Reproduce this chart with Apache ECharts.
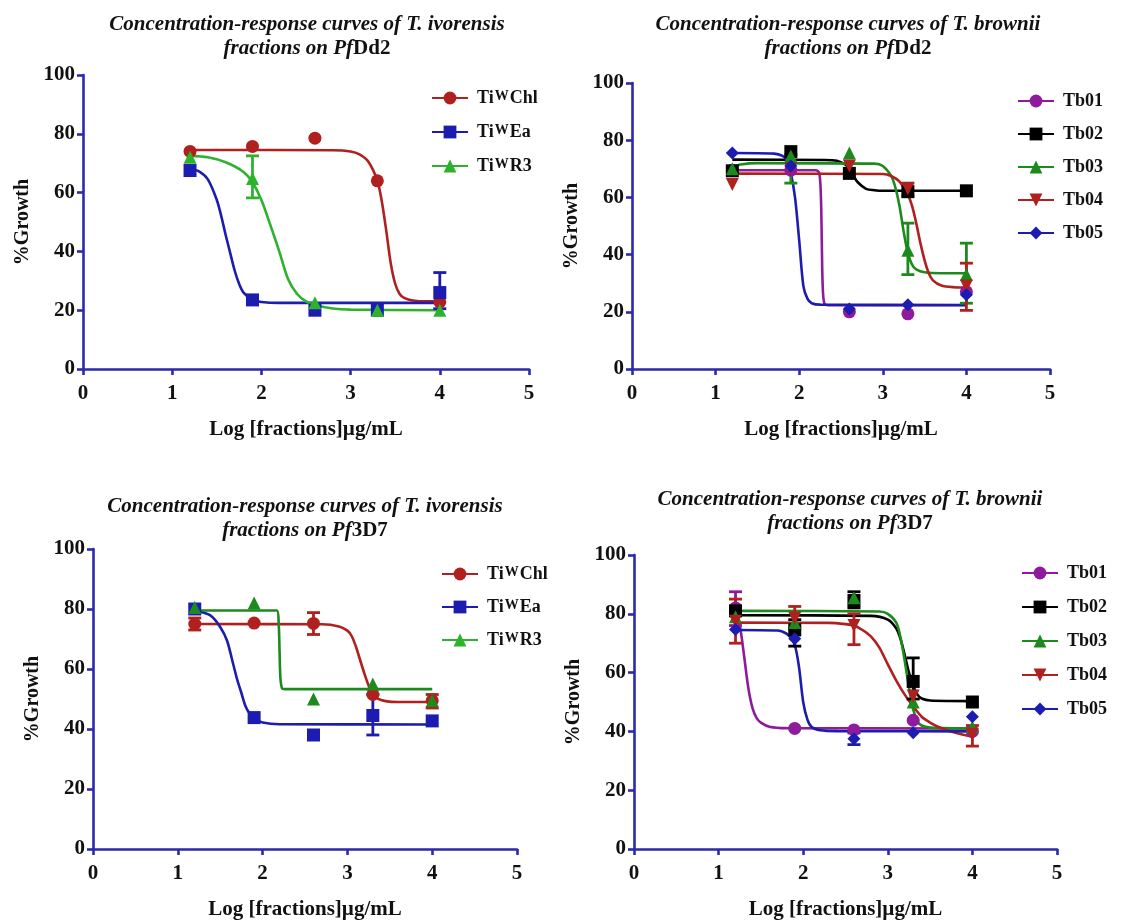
<!DOCTYPE html>
<html>
<head>
<meta charset="utf-8">
<script src="https://cdn.jsdelivr.net/npm/echarts@6/dist/echarts.min.js"></script>
<style>html,body{margin:0;padding:0;background:#fff}#c{width:1121px;height:921px}</style>
</head>
<body>
<div id="c"></div>
<script>
// ---------- DATA ----------
const xDoses = [1.2, 1.9, 2.6, 3.3, 4.0];
const xTicks = [0, 1, 2, 3, 4, 5];
const yTicks = [0, 20, 40, 60, 80, 100];

// Panel A: T. ivorensis on PfDd2
const ivoNames = ['TiWChl', 'TiWEa', 'TiWR3'];
const dd2IvoChl = [74, 75.7, 78.5, 64, 22.8];
const dd2IvoEa = [67.5, 23.5, 20, 20, 26];
const dd2IvoR3 = [72, 64.8, 22.5, 20, 20];
const dd2IvoChlErr = [];
const dd2IvoEaErr = [[4.0, 20.5, 32.8]];
const dd2IvoR3Err = [[1.9, 58.2, 72.5]];
const dd2IvoChlFit = [[1.2,74.5],[2.8,74.4],[3.0,74.0],[3.1,73.0],[3.2,70.5],[3.3,64],[3.35,57],[3.4,47],[3.45,36],[3.5,29],[3.55,25.5],[3.6,24.2],[3.7,23.3],[3.85,23],[4.0,23]];
const dd2IvoEaFit = [[1.2,68],[1.3,67.2],[1.4,64.5],[1.5,57.5],[1.55,52],[1.6,45.5],[1.65,39.5],[1.7,33.5],[1.75,29],[1.8,26],[1.9,23.5],[2.0,22.8],[2.2,22.5],[4.0,22.5]];
const dd2IvoR3Fit = [[1.2,72.5],[1.4,72],[1.6,70.3],[1.8,67],[1.9,63.5],[2.0,57.5],[2.1,49],[2.2,40],[2.3,30.5],[2.4,25.5],[2.5,23],[2.6,21.8],[2.8,20.6],[3.0,20.2],[4.0,20]];

// Panel B: T. brownii on PfDd2
const broNames = ['Tb01', 'Tb02', 'Tb03', 'Tb04', 'Tb05'];
const dd2BroTb01 = [69.5, 69.5, 20, 19.3, 27];
const dd2BroTb02 = [69.3, 76, 68.4, 62, 62.3];
const dd2BroTb03 = [70, 74.5, 75.5, 41.5, 33];
const dd2BroTb04 = [64.5, 70, 71, 63, 29];
const dd2BroTb05 = [75.5, 71, 21, 22.5, 26];
const dd2BroTb01Err = [];
const dd2BroTb02Err = [];
const dd2BroTb03Err = [[1.9, 65, 75], [3.3, 33, 51], [4.0, 23, 44]];
const dd2BroTb04Err = [[3.3, 60.5, 65], [4.0, 20.5, 37]];
const dd2BroTb05Err = [];
const dd2BroTb01Fit = [[1.2,69.5],[2.2,69.5],[2.24,68.5],[2.26,60],[2.27,45],[2.28,30],[2.3,23],[2.35,22.3],[4.0,22.3]];
const dd2BroTb02Fit = [[1.2,73.2],[2.3,73.1],[2.45,72.8],[2.55,71.5],[2.6,70],[2.65,67.5],[2.7,65.3],[2.8,63],[2.9,62.5],[3.0,62.3],[4.0,62.3]];
const dd2BroTb03Fit = [[1.2,70.5],[1.3,71.5],[1.5,72],[2.9,71.8],[3.0,71],[3.1,67.5],[3.15,63.5],[3.2,57],[3.25,48],[3.3,40.5],[3.35,36.5],[3.4,34.8],[3.5,33.8],[3.7,33.5],[4.0,33.5]];
const dd2BroTb04Fit = [[1.2,68.3],[3.0,68.2],[3.1,67.5],[3.2,65.5],[3.3,61],[3.35,57],[3.4,51],[3.45,44],[3.5,38],[3.55,33.5],[3.6,31],[3.7,29.2],[3.85,28.6],[4.0,28.5]];
const dd2BroTb05Fit = [[1.2,75.5],[1.7,75.3],[1.8,74.5],[1.85,73],[1.9,68.5],[1.95,60],[2.0,45],[2.05,29],[2.1,24.5],[2.15,23],[2.25,22.5],[4.0,22.4]];

// Panel C: T. ivorensis on Pf3D7
const d7IvoChl = [75, 75.3, 75.2, 51.5, 49.5];
const d7IvoEa = [80, 43.8, 38, 44.5, 42.7];
const d7IvoR3 = [80.5, 82, 50, 55, 49.5];
const d7IvoChlErr = [[1.2, 73, 77], [2.6, 71.5, 78.8], [4.0, 47, 51.5]];
const d7IvoEaErr = [[3.3, 38, 51.5]];
const d7IvoR3Err = [];
const d7IvoChlFit = [[1.2,75],[2.7,74.9],[2.9,74.2],[3.0,72.8],[3.05,71],[3.1,67.5],[3.15,63],[3.2,58.5],[3.25,54.5],[3.3,51.5],[3.35,50.2],[3.45,49.3],[3.6,49],[4.0,49]];
const d7IvoEaFit = [[1.2,79.3],[1.3,78.8],[1.4,77.5],[1.5,74],[1.58,69.5],[1.65,62],[1.7,56.5],[1.75,52],[1.8,47.5],[1.85,45],[1.9,43.5],[2.0,42.2],[2.2,41.6],[4.0,41.5]];
const d7IvoR3Fit = [[1.2,79.5],[2.17,79.5],[2.19,75],[2.2,66],[2.21,57],[2.23,53.5],[2.26,53.3],[4.0,53.3]];

// Panel D: T. brownii on Pf3D7
const d7BroTb01 = [82, 41, 40.5, 43.8, 40];
const d7BroTb02 = [81, 74.5, 84.5, 57, 50];
const d7BroTb03 = [79, 77, 85.5, 50, 41.5];
const d7BroTb04 = [77.5, 78.5, 76, 52, 39];
const d7BroTb05 = [74.7, 71.5, 37.5, 39.5, 45];
const d7BroTb01Err = [[1.2, 76, 87.5]];
const d7BroTb02Err = [[1.9, 69, 78], [2.6, 82, 87.5], [3.3, 51, 65]];
const d7BroTb03Err = [];
const d7BroTb04Err = [[1.2, 70, 85], [1.9, 75, 82.5], [2.6, 69.5, 80], [4.0, 35, 42]];
const d7BroTb05Err = [[2.6, 35.5, 39.5]];
const d7BroTb01Fit = [[1.2,80],[1.25,76],[1.3,66],[1.35,55],[1.4,48],[1.45,44.5],[1.5,43],[1.6,41.6],[1.8,41.1],[4.0,41]];
const d7BroTb02Fit = [[1.2,79.5],[2.8,79.3],[3.0,78],[3.1,75],[3.15,71.5],[3.2,66],[3.25,60],[3.3,55.5],[3.35,52.5],[3.4,51.2],[3.5,50.5],[4.0,50.3]];
const d7BroTb03Fit = [[1.2,81],[2.9,80.8],[3.0,80],[3.1,77],[3.15,72],[3.2,64],[3.25,55],[3.3,47.5],[3.35,43.5],[3.4,42],[3.5,41.3],[4.0,41]];
const d7BroTb04Fit = [[1.2,77],[2.3,76.9],[2.5,76.5],[2.6,76],[2.7,74.5],[2.8,72.3],[2.9,68.5],[3.0,62.8],[3.1,57.3],[3.2,52.5],[3.3,48.5],[3.4,45],[3.5,43],[3.6,41.5],[3.8,39.5],[4.0,38.2]];
const d7BroTb05Fit = [[1.2,74.5],[1.7,74.3],[1.8,73.3],[1.85,72],[1.9,69.5],[1.95,62],[2.0,50],[2.05,44],[2.1,41.5],[2.2,40.4],[2.4,40.1],[4.0,40]];

// ---------- STYLE ----------
const FONT = "'Liberation Serif','Times New Roman',serif";
const AXIS_BLUE = '#2a2aaa';
const RED = '#b0201e', BLUE = '#1c1cb0', GREEN_L = '#2db22d', GREEN_D = '#1c8a1c', PURPLE = '#8e1a9c', BLACK = '#000000';

const grids = [
  {left: 83, top: 75, width: 446, height: 294},
  {left: 632, top: 83, width: 418, height: 286},
  {left: 93, top: 549, width: 424, height: 302},
  {left: 634, top: 555, width: 423, height: 298}
];

const titles = [
  {l1: 'Concentration-response curves of T. ivorensis', strain: 'Dd2', cx: 302, top: 8},
  {l1: 'Concentration-response curves of T. brownii', strain: 'Dd2', cx: 843, top: 8},
  {l1: 'Concentration-response curves of T. ivorensis', strain: '3D7', cx: 300, top: 490},
  {l1: 'Concentration-response curves of T. brownii', strain: '3D7', cx: 845, top: 483}
];

const legendPos = [
  {left: 426, top: 84, gap: 16},
  {left: 1012, top: 87, gap: 15},
  {left: 436, top: 560, gap: 15},
  {left: 1016, top: 559, gap: 16}
];

const panels = [
  {names: ivoNames, pts: [dd2IvoChl, dd2IvoEa, dd2IvoR3], errs: [dd2IvoChlErr, dd2IvoEaErr, dd2IvoR3Err], fits: [dd2IvoChlFit, dd2IvoEaFit, dd2IvoR3Fit],
   colors: [RED, BLUE, GREEN_L], symbols: ['circle', 'rect', 'triangle'], rot: [0, 0, 0]},
  {names: broNames, pts: [dd2BroTb01, dd2BroTb02, dd2BroTb03, dd2BroTb04, dd2BroTb05], errs: [dd2BroTb01Err, dd2BroTb02Err, dd2BroTb03Err, dd2BroTb04Err, dd2BroTb05Err],
   fits: [dd2BroTb01Fit, dd2BroTb02Fit, dd2BroTb03Fit, dd2BroTb04Fit, dd2BroTb05Fit],
   colors: [PURPLE, BLACK, GREEN_D, RED, BLUE], symbols: ['circle', 'rect', 'triangle', 'triangle', 'diamond'], rot: [0, 0, 0, 180, 0]},
  {names: ivoNames, pts: [d7IvoChl, d7IvoEa, d7IvoR3], errs: [d7IvoChlErr, d7IvoEaErr, d7IvoR3Err], fits: [d7IvoChlFit, d7IvoEaFit, d7IvoR3Fit],
   colors: [RED, BLUE, GREEN_D], symbols: ['circle', 'rect', 'triangle'], rot: [0, 0, 0]},
  {names: broNames, pts: [d7BroTb01, d7BroTb02, d7BroTb03, d7BroTb04, d7BroTb05], errs: [d7BroTb01Err, d7BroTb02Err, d7BroTb03Err, d7BroTb04Err, d7BroTb05Err],
   fits: [d7BroTb01Fit, d7BroTb02Fit, d7BroTb03Fit, d7BroTb04Fit, d7BroTb05Fit],
   colors: [PURPLE, BLACK, GREEN_D, RED, BLUE], symbols: ['circle', 'rect', 'triangle', 'triangle', 'diamond'], rot: [0, 0, 0, 180, 0]}
];

function errRender(color) {
  return function (params, api) {
    const x = api.value(0), lo = api.value(1), hi = api.value(2);
    const a = api.coord([x, lo]), b = api.coord([x, hi]);
    const w = 6.5;
    const st = {stroke: color, lineWidth: 2.8};
    return {type: 'group', children: [
      {type: 'line', shape: {x1: a[0], y1: a[1], x2: b[0], y2: b[1]}, style: st},
      {type: 'line', shape: {x1: a[0] - w, y1: a[1], x2: a[0] + w, y2: a[1]}, style: st},
      {type: 'line', shape: {x1: b[0] - w, y1: b[1], x2: b[0] + w, y2: b[1]}, style: st}
    ]};
  };
}

const title = [], xAxis = [], yAxis = [], legend = [], series = [];
const axisCommon = {
  axisLine: {show: true, onZero: false, lineStyle: {color: AXIS_BLUE, width: 2.6}},
  axisTick: {show: true, length: 6, inside: false, lineStyle: {color: AXIS_BLUE, width: 2.6}},
  splitLine: {show: false},
  axisLabel: {color: '#111', fontFamily: FONT, fontWeight: 'bold', fontSize: 21},
  nameTextStyle: {color: '#111', fontFamily: FONT, fontWeight: 'bold', fontSize: 21}
};

titles.forEach((t, i) => {
  title.push({
    text: '{a|' + t.l1 + '}\n{a|fractions on }{a|Pf}{b|' + t.strain + '}',
    left: t.cx, top: t.top, textAlign: 'center',
    textStyle: {
      fontFamily: FONT, fontSize: 21, fontWeight: 'bold', fontStyle: 'italic', color: '#111',
      rich: {
        a: {fontFamily: FONT, fontSize: 21, fontWeight: 'bold', fontStyle: 'italic', color: '#111', lineHeight: 24},
        b: {fontFamily: FONT, fontSize: 21, fontWeight: 'bold', fontStyle: 'normal', color: '#111', lineHeight: 24}
      }
    }
  });
});

panels.forEach((p, i) => {
  xAxis.push(Object.assign({}, axisCommon, {
    type: 'value', gridIndex: i, min: xTicks[0], max: xTicks[xTicks.length - 1], interval: 1,
    name: 'Log [fractions]µg/mL', nameLocation: 'middle', nameGap: 50,
    axisLabel: Object.assign({}, axisCommon.axisLabel, {margin: 14})
  }));
  yAxis.push(Object.assign({}, axisCommon, {
    type: 'value', gridIndex: i, min: yTicks[0], max: yTicks[yTicks.length - 1], interval: 20,
    name: '%Growth', nameLocation: 'middle', nameGap: 50,
    nameTextStyle: Object.assign({}, axisCommon.nameTextStyle, {fontSize: 20}),
    axisLabel: Object.assign({}, axisCommon.axisLabel, {margin: 8})
  }));
  legend.push({
    orient: 'vertical', left: legendPos[i].left, top: legendPos[i].top,
    data: p.names, itemWidth: 36, itemHeight: 16, itemGap: legendPos[i].gap,
    selectedMode: false,
    formatter: function (name) {
      if (name.indexOf('TiW') === 0) return '{n|Ti}{s|W}{n|' + name.slice(3) + '}';
      return '{n|' + name + '}';
    },
    textStyle: {
      fontFamily: FONT, fontWeight: 'bold', fontSize: 18, color: '#111', padding: [0, 0, 0, 4],
      rich: {
        n: {fontFamily: FONT, fontWeight: 'bold', fontSize: 18, color: '#111', lineHeight: 18},
        s: {fontFamily: FONT, fontWeight: 'bold', fontSize: 14, color: '#111', verticalAlign: 'top', lineHeight: 16, padding: [0, 1, 0, 1]}
      }
    }
  });
  p.names.forEach((nm, k) => {
    const c = p.colors[k];
    series.push({
      type: 'line', name: nm, xAxisIndex: i, yAxisIndex: i, data: p.fits[k],
      smooth: 0.3, showSymbol: false, symbol: p.symbols[k], symbolRotate: p.rot[k],
      lineStyle: {color: c, width: 2.6}, itemStyle: {color: c}, z: 2, animation: false
    });
    if (p.errs[k].length) {
      series.push({
        type: 'custom', name: nm, xAxisIndex: i, yAxisIndex: i, data: p.errs[k],
        encode: {x: 0, y: [1, 2]}, renderItem: errRender(c), z: 3, animation: false
      });
    }
    series.push({
      type: 'scatter', name: nm, xAxisIndex: i, yAxisIndex: i,
      data: xDoses.map((x, j) => [x, p.pts[k][j]]),
      symbol: p.symbols[k], symbolRotate: p.rot[k],
      symbolSize: 13,
      itemStyle: {color: c, opacity: 1}, z: 4, animation: false
    });
  });
});

const chart = echarts.init(document.getElementById('c'), null, {renderer: 'canvas'});
chart.setOption({
  backgroundColor: '#ffffff',
  animation: false,
  title: title,
  grid: grids,
  xAxis: xAxis,
  yAxis: yAxis,
  legend: legend,
  series: series
});
</script>
</body>
</html>
